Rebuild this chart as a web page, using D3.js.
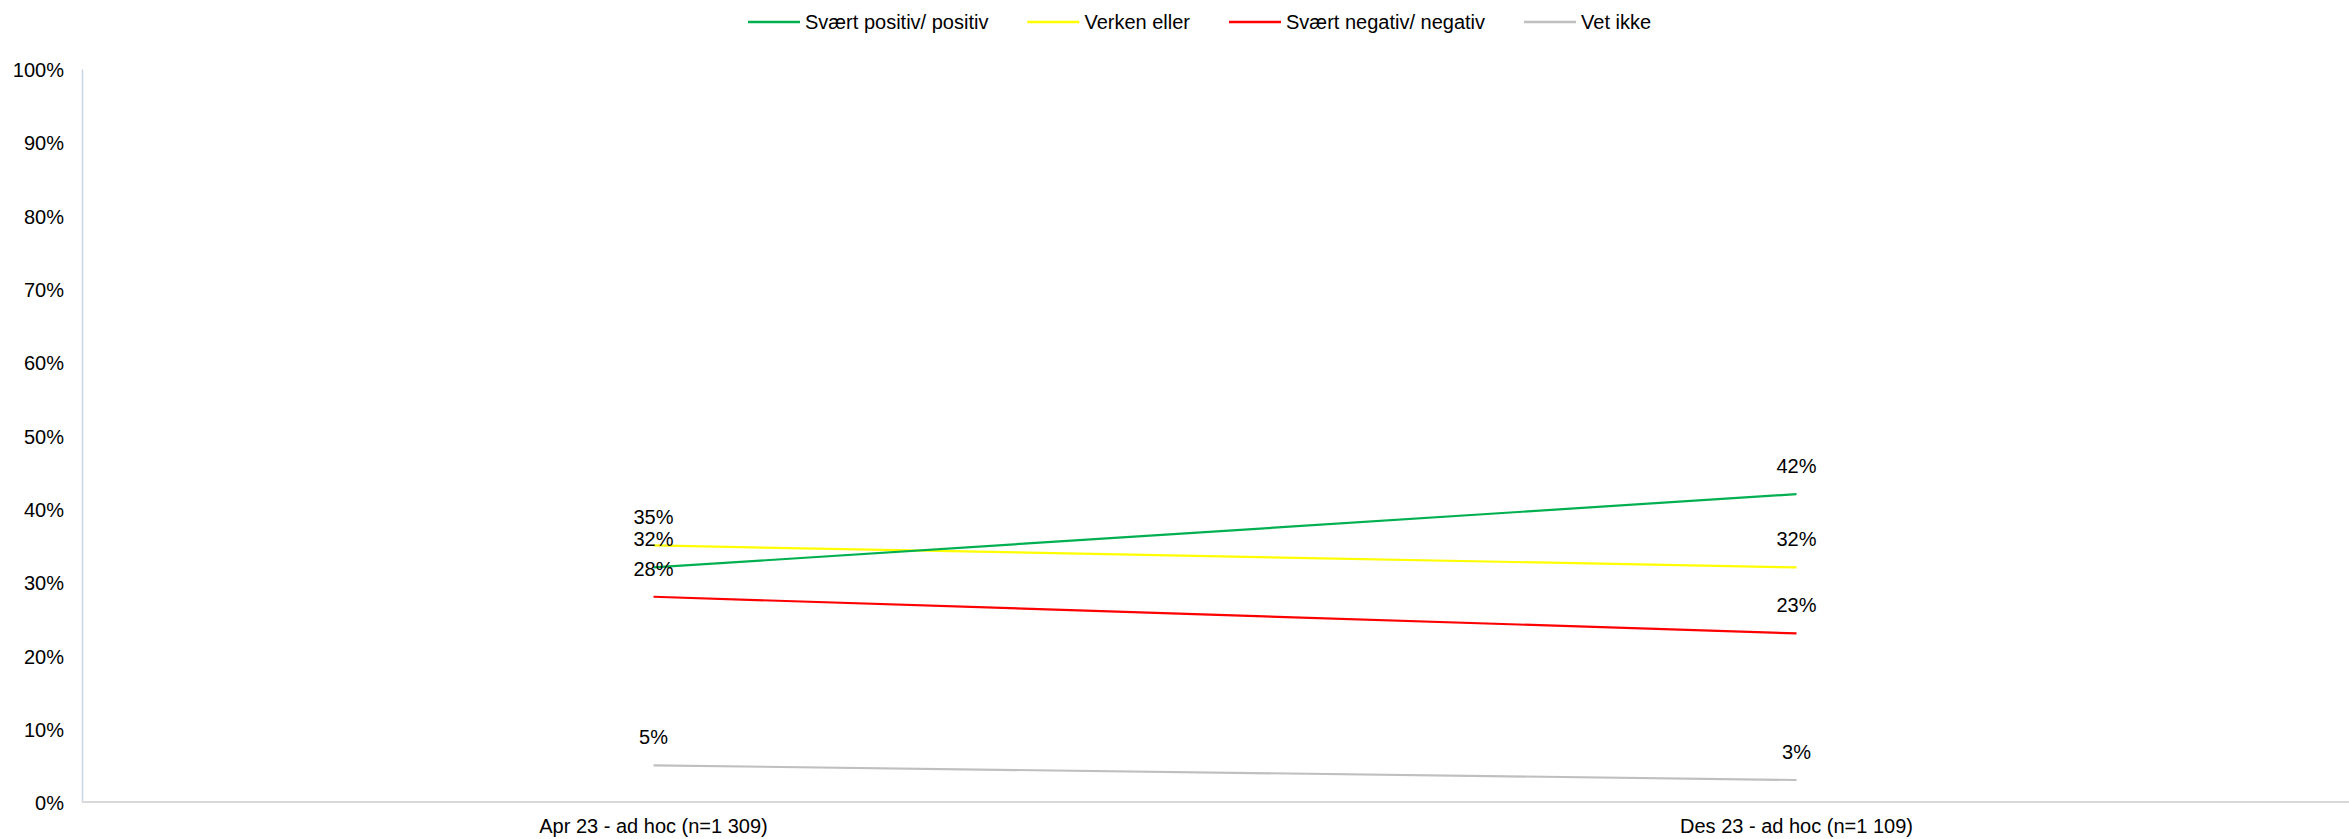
<!DOCTYPE html>
<html>
<head>
<meta charset="utf-8">
<script src="https://cdn.jsdelivr.net/npm/d3@7"></script>
<style>
  html, body { margin: 0; padding: 0; background: #fff; }
  svg { display: block; font-family: "Liberation Sans", Arial, sans-serif; }
</style>
</head>
<body>
<svg id="chart" width="2349" height="839"></svg>
<script>
const categories = ["Apr 23 - ad hoc (n=1 309)", "Des 23 - ad hoc (n=1 109)"];
const seriesNames = ["Svært positiv/ positiv", "Verken eller", "Svært negativ/ negativ", "Vet ikke"];
const seriesColors = ["#00b050", "#ffff00", "#ff0000", "#bfbfbf"];
const positivValues = [0.32, 0.42];
const verkenValues = [0.35, 0.32];
const negativValues = [0.28, 0.23];
const vetIkkeValues = [0.05, 0.03];
const yTicks = [0, 0.1, 0.2, 0.3, 0.4, 0.5, 0.6, 0.7, 0.8, 0.9, 1.0];

(function () {
const series = [positivValues, verkenValues, negativValues, vetIkkeValues].map((v, i) => ({
  name: seriesNames[i], color: seriesColors[i], values: v
}));

const W = 2349, H = 839;
const FS = 20;
const svg = d3.select("#chart");
const mLeft = 82, mRight = 2368, mTop = 69, mBottom = 802;

const x = d3.scaleBand().domain(categories).range([mLeft, mRight]);
const y = d3.scaleLinear().domain([0, 1]).range([mBottom, mTop]);
const fmt = d3.format(".0%");

// y-axis
const yAxis = svg.append("g").attr("transform", `translate(${mLeft},0)`)
  .call(d3.axisLeft(y).tickValues(yTicks).tickFormat(fmt).tickSize(0).tickPadding(18));
yAxis.select(".domain").attr("stroke", "#c9d4e8").attr("stroke-width", 1.5);
yAxis.selectAll("text").attr("font-size", FS).attr("fill", "#000").attr("dy", "0.38em")
  .attr("font-family", "Liberation Sans, Arial, sans-serif");

// x-axis
const xAxis = svg.append("g").attr("transform", `translate(0,${mBottom})`)
  .call(d3.axisBottom(x).tickSize(0).tickPadding(17));
xAxis.select(".domain").remove();
svg.append("line").attr("x1", mLeft).attr("x2", W).attr("y1", mBottom).attr("y2", mBottom)
  .attr("stroke", "#d9d9d9").attr("stroke-width", 2);
xAxis.selectAll("text").attr("font-size", FS).attr("fill", "#000")
  .attr("font-family", "Liberation Sans, Arial, sans-serif");

const cx = c => x(c) + x.bandwidth() / 2;
const line = d3.line().x((d, i) => cx(categories[i])).y(d => y(d));

// lines (draw in reverse so green on top)
series.slice().reverse().forEach(s => {
  svg.append("path").datum(s.values).attr("d", line)
    .attr("fill", "none").attr("stroke", s.color).attr("stroke-width", 2.2);
});

// data labels
series.forEach(s => {
  s.values.forEach((v, i) => {
    svg.append("text").attr("x", cx(categories[i])).attr("y", y(v) - 21)
      .attr("text-anchor", "middle").attr("font-size", FS).attr("fill", "#000")
      .text(fmt(v));
  });
});

// legend
const legend = svg.append("g");
let lx = 748;
series.forEach((s, i) => {
  const g = legend.append("g").attr("transform", `translate(${lx},22)`);
  g.append("line").attr("x1", 0).attr("x2", 52).attr("y1", 0).attr("y2", 0)
    .attr("stroke", s.color).attr("stroke-width", 2.5);
  const t = g.append("text").attr("x", 57).attr("y", 7).attr("font-size", FS).attr("fill", "#000").text(s.name);
  lx += 57 + t.node().getComputedTextLength() + 39;
});
})();
</script>
</body>
</html>
